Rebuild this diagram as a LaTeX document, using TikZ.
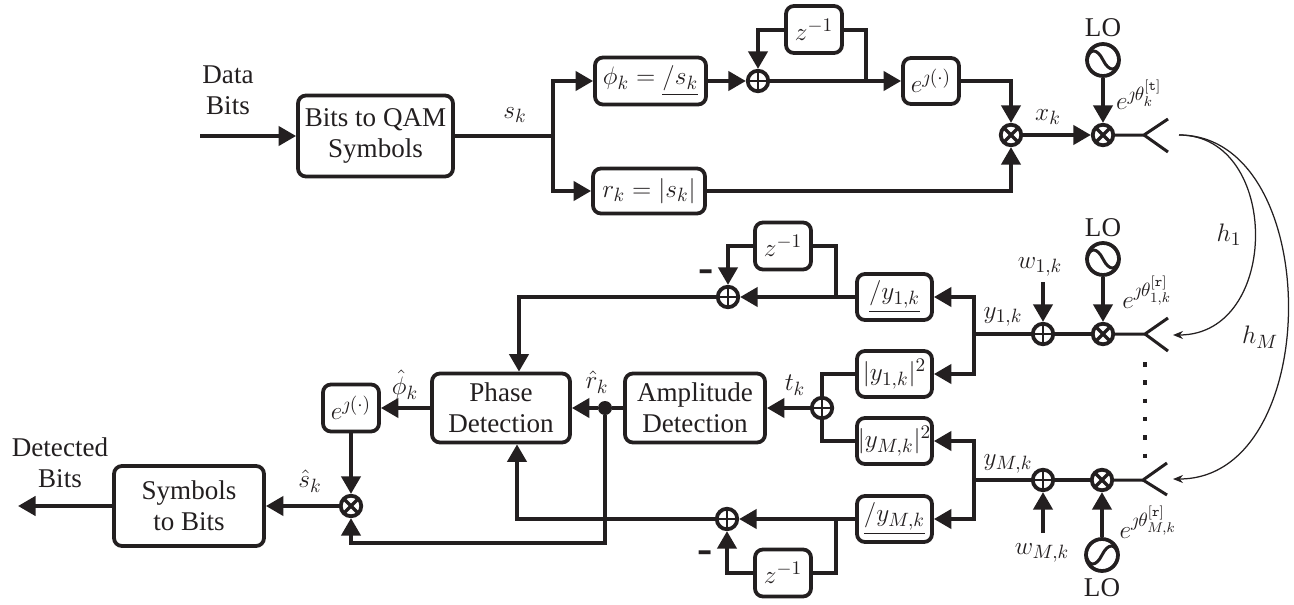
\documentclass[tikz,border=0pt]{standalone}
\usepackage{amsmath}
\usepackage[no-math]{fontspec}
\setmainfont{Liberation Serif}
\usetikzlibrary{arrows.meta}
\definecolor{ink}{HTML}{231F20}
\newcommand{\phasang}[1]{\underline{/#1}}
\tikzset{
	every node/.style={font=\fontsize{15.4}{17.6}\selectfont,inner sep=1pt},
	sig/.style={-{Triangle[length=0.35cm,width=0.38cm]},line width=0.8mm},
	wire/.style={line width=0.8mm},
	thinwire/.style={line width=0.6mm},
	chan/.style={-{Stealth[length=0.2cm,width=0.16cm]},line width=0.25mm},
	minussign/.style={font=\fontsize{26}{26}\selectfont\bfseries},
	blockbox/.style={draw,line width=0.75mm,rounded corners=0.16cm,inner sep=0pt,align=center},
	opcircle/.style={draw,circle,line width=0.75mm,minimum size=0.41cm,inner sep=0pt},
	sumcircle/.style={opcircle,path picture={
		\draw[line width=0.5mm] (path picture bounding box.north) -- (path picture bounding box.south);
		\draw[line width=0.5mm] (path picture bounding box.west) -- (path picture bounding box.east);}},
	mulcircle/.style={opcircle,path picture={
		\draw[line width=0.7mm] (path picture bounding box.north west) -- (path picture bounding box.south east);
		\draw[line width=0.7mm] (path picture bounding box.south west) -- (path picture bounding box.north east);}},
	osc/.style={draw,circle,line width=0.75mm,minimum size=0.64cm,inner sep=0pt},
	oscup/.style={osc,path picture={
		\draw[line width=0.6mm] (path picture bounding box.west) .. controls +(0.05,0.24) and +(-0.12,0.24) .. (path picture bounding box.center) .. controls +(0.12,-0.24) and +(-0.05,-0.24) .. (path picture bounding box.east);}},
	oscdown/.style={osc,path picture={
		\draw[line width=0.6mm] (path picture bounding box.west) .. controls +(0.05,-0.24) and +(-0.12,-0.24) .. (path picture bounding box.center) .. controls +(0.12,0.24) and +(-0.05,0.24) .. (path picture bounding box.east);}},
}
\begin{document}
\begin{tikzpicture}[color=ink]
	\useasboundingbox (0,0) rectangle (25.88,12.08);

	%transmitter
	\coordinate (In) at (4,9.36);
	\coordinate (Split) at (11.06,9.36);
	\coordinate (Tap1) at (17.32,10.46);
	\node (DataBits) [align=center] at (4.56,10.28) {Data\\Bits};
	\node (QAM) [blockbox,minimum width=3.1cm,minimum height=1.62cm] at (7.51,9.36) {Bits to QAM\\Symbols};
	\node (sk) at (10.3,9.78) {$s_k$};
	\node (Phi) [blockbox,minimum width=2.22cm,minimum height=0.94cm] at (13.01,10.46) {$\phi_k = \phasang{s_k}$};
	\node (Rk) [blockbox,minimum width=2.24cm,minimum height=0.9cm] at (12.98,8.26) {$r_k = |s_k|$};
	\node (Sum1) [sumcircle] at (15.16,10.46) {};
	\node (Delay1) [blockbox,minimum width=1.12cm,minimum height=0.94cm] at (16.28,11.49) {$z^{-1}$};
	\node (Exp1) [blockbox,minimum width=1.12cm,minimum height=0.92cm] at (18.62,10.46) {$e^{\jmath(\cdot)}$};
	\node (Mul1) [mulcircle] at (20.22,9.38) {};
	\node (xk) at (20.96,9.74) {$x_k$};
	\node (Mul2) [mulcircle] at (22.06,9.38) {};
	\node (Osc1) [oscup] at (22.06,10.88) {};
	\node (LO1) at (22.06,11.52) {LO};
	\node (Et) at (22.78,10.18) {$e^{\jmath\theta_k^{[\mathtt{t}]}}$};
	\coordinate (Ant1) at (22.88,9.38);
	\coordinate (Ant1a) at (23.36,9.7);
	\coordinate (Ant1b) at (23.36,9.04);
	\coordinate (Tx) at (23.58,9.38);

	\draw [sig] (In) to (QAM.west);
	\draw [wire] (QAM.east) to (Split);
	\draw [sig] (Split) |- (Phi.west);
	\draw [sig] (Split) |- (Rk.west);
	\draw [sig] (Phi) to (Sum1);
	\draw [sig] (Sum1) to (Exp1);
	\draw [sig] (Delay1.west) -| (Sum1.north);
	\draw [wire] (Delay1.east) -| (Tap1);
	\draw [sig] (Exp1.east) -| (Mul1.north);
	\draw [sig] (Rk.east) -| (Mul1.south);
	\draw [sig] (Mul1) to (Mul2);
	\draw [sig] (Osc1) to (Mul2);
	\draw [thinwire] (Mul2) -- (Ant1) -- (Ant1a);
	\draw [thinwire] (Ant1) -- (Ant1b);

	%first receive branch
	\node (LO2) at (22.06,7.52) {LO};
	\node (Osc2) [oscup] at (22.06,6.9) {};
	\node (Er1) at (22.94,6.24) {$e^{\jmath\theta_{1,k}^{[\mathtt{r}]}}$};
	\node (Mul3) [mulcircle] at (22.06,5.4) {};
	\node (Sum2) [sumcircle] at (20.86,5.4) {};
	\node (w1) at (20.8,6.74) {$w_{1,k}$};
	\coordinate (w1in) at (20.86,6.44);
	\node (y1) at (20.06,5.74) {$y_{1,k}$};
	\coordinate (Join1) at (19.47,5.4);
	\coordinate (Ant2) at (22.9,5.4);
	\coordinate (Ant2a) at (23.36,5.72);
	\coordinate (Ant2b) at (23.36,5.06);
	\coordinate (Rx1) at (23.46,5.38);
	\node (Ang1) [blockbox,minimum width=1.5cm,minimum height=0.92cm] at (17.89,6.14) {$\phasang{y_{1,k}}$};
	\node (Abs1) [blockbox,minimum width=1.5cm,minimum height=0.92cm] at (17.89,4.6) {$|y_{1,k}|^2$};
	\node (Delay2) [blockbox,minimum width=1.12cm,minimum height=0.94cm] at (15.66,7.16) {$z^{-1}$};
	\node (Sum3) [sumcircle] at (14.56,6.14) {};
	\node (Minus1) [minussign] at (14.12,6.56) {-};
	\coordinate (Tap2) at (16.72,6.14);

	%last receive branch
	\node (AbsM) [blockbox,minimum width=1.5cm,minimum height=0.92cm] at (17.89,3.26) {$|y_{M,k}|^2$};
	\node (AngM) [blockbox,minimum width=1.5cm,minimum height=0.92cm] at (17.89,1.7) {$\phasang{y_{M,k}}$};
	\node (Delay3) [blockbox,minimum width=1.12cm,minimum height=0.94cm] at (15.66,0.62) {$z^{-1}$};
	\node (Sum5) [sumcircle] at (14.54,1.7) {};
	\node (Minus2) [minussign] at (14.1,0.94) {-};
	\coordinate (Tap3) at (16.72,1.7);
	\coordinate (JoinM) at (19.47,2.48);
	\node (yM) at (20.16,2.8) {$y_{M,k}$};
	\node (Sum6) [sumcircle] at (20.86,2.48) {};
	\node (Mul4) [mulcircle] at (22.04,2.48) {};
	\coordinate (AntM) at (22.86,2.48);
	\coordinate (AntMa) at (23.34,2.82);
	\coordinate (AntMb) at (23.34,2.18);
	\coordinate (RxM) at (23.46,2.5);
	\coordinate (wMin) at (20.86,1.42);
	\node (wM) at (20.84,1.02) {$w_{M,k}$};
	\node (Osc3) [oscdown] at (22.04,0.98) {};
	\node (LO3) at (22.04,0.32) {LO};
	\node (ErM) at (22.96,1.64) {$e^{\jmath\theta_{M,k}^{[\mathtt{r}]}}$};
	\coordinate (DotsTop) at (22.9,4.84);
	\coordinate (DotsEnd) at (22.9,2.92);

	%detection
	\node (Sum4) [sumcircle] at (16.44,3.92) {};
	\node (tk) at (15.9,4.38) {$t_k$};
	\node (Amp) [blockbox,minimum width=2.8cm,minimum height=1.38cm] at (13.9,3.92) {Amplitude\\Detection};
	\node (Dot) [circle,fill,minimum size=0.28cm,inner sep=0pt] at (12.1,3.92) {};
	\node (rhat) at (11.94,4.44) {$\hat{r}_k$};
	\node (Phase) [blockbox,minimum width=2.76cm,minimum height=1.38cm] at (10.02,3.92) {Phase\\Detection};
	\node (phihat) at (8.1,4.38) {$\hat{\phi}_k$};
	\node (Exp2) [blockbox,minimum width=1.12cm,minimum height=0.94cm] at (7.02,3.92) {$e^{\jmath(\cdot)}$};
	\node (Mul5) [mulcircle] at (7.02,1.96) {};
	\node (shat) at (6.2,2.46) {$\hat{s}_k$};
	\node (Sym) [blockbox,minimum width=3cm,minimum height=1.6cm] at (3.78,1.96) {Symbols\\to Bits};
	\node (DetBits) [align=center] at (1.2,2.82) {Detected\\Bits};
	\coordinate (Out) at (0.36,1.96);
	\coordinate (Bend1) at (10.38,6.14);
	\coordinate (Bend2) at (10.34,1.7);
	\coordinate (Bend3) at (12.1,1.22);
	\coordinate (Bend4) at (7.02,1.22);

	\draw [sig] (Osc2) to (Mul3);
	\draw [sig] (w1in) to (Sum2);
	\draw [thinwire] (Mul3) -- (Ant2) -- (Ant2a);
	\draw [thinwire] (Ant2) -- (Ant2b);
	\draw [wire] (Mul3) to (Sum2);
	\draw [wire] (Sum2) to (Join1);
	\draw [sig] (Join1) |- (Ang1.east);
	\draw [sig] (Join1) |- (Abs1.east);
	\draw [sig] (Ang1.west) to (Sum3.east);
	\draw [sig] (Delay2.west) -| (Sum3.north);
	\draw [wire] (Delay2.east) -| (Tap2);
	\draw [sig] (Sum3.west) -- (Bend1) -- (Bend1 |- Phase.north);
	\draw [wire] (Abs1.west) -| (Sum4.north);
	\draw [wire] (AbsM.west) -| (Sum4.south);
	\draw [sig] (Sum4) to (Amp);
	\draw [wire] (Amp) to (Dot);
	\draw [sig] (Dot) to (Phase);
	\draw [sig] (Phase) to (Exp2);
	\draw [sig] (Exp2) to (Mul5);
	\draw [sig] (Mul5) to (Sym);
	\draw [sig] (Sym) to (Out);

	\draw [sig] (Osc3) to (Mul4);
	\draw [sig] (wMin) to (Sum6);
	\draw [thinwire] (Mul4) -- (AntM) -- (AntMa);
	\draw [thinwire] (AntM) -- (AntMb);
	\draw [wire] (Mul4) to (Sum6);
	\draw [wire] (Sum6) to (JoinM);
	\draw [sig] (JoinM) |- (AbsM.east);
	\draw [sig] (JoinM) |- (AngM.east);
	\draw [sig] (AngM.west) to (Sum5.east);
	\draw [sig] (Delay3.west) -| (Sum5.south);
	\draw [wire] (Delay3.east) -| (Tap3);
	\draw [sig] (Sum5.west) -- (Bend2) -- (Bend2 |- Phase.south);
	\draw [sig] (Dot) -- (Bend3) -- (Bend4) -- (Mul5.south);

	\draw [line width=0.09cm,dash pattern=on 0.09cm off 0.276cm] (DotsTop) to (DotsEnd);

	%channels
	\draw [chan] (Tx) .. controls (25.62,9.38) and (25.62,5.38) .. (Rx1);
	\draw [chan] (Tx) .. controls (26.5,9.38) and (26.5,2.5) .. (RxM);
	\node (h1) at (24.58,7.38) {$h_1$};
	\node (hM) at (25.2,5.34) {$h_M$};
\end{tikzpicture}
\end{document}
